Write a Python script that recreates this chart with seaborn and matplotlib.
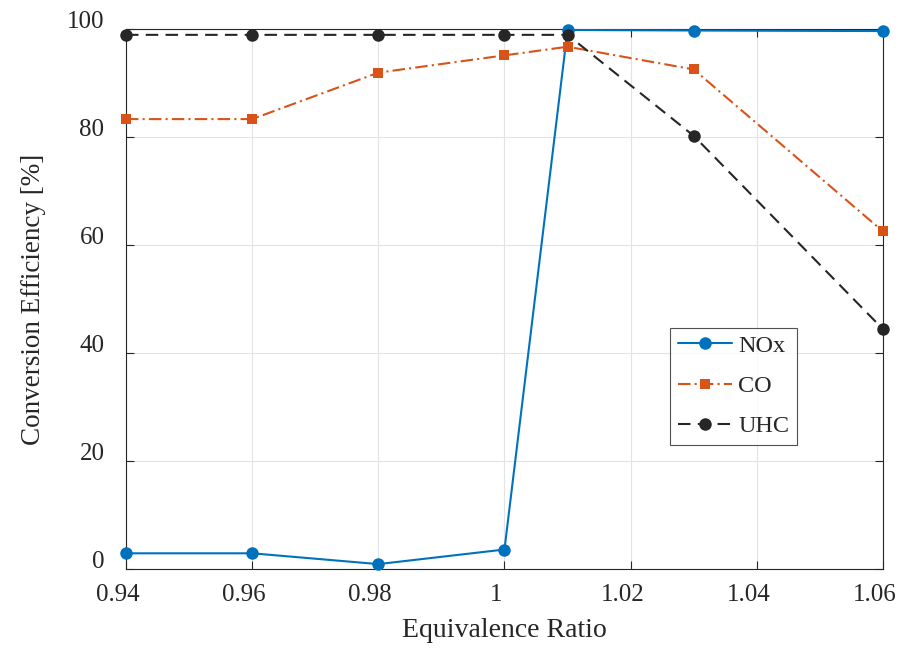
import matplotlib
matplotlib.use("Agg")
import matplotlib.pyplot as plt
import matplotlib.transforms as mtransforms
import seaborn as sns
import pandas as pd

phi = [0.94, 0.96, 0.98, 1.00, 1.01, 1.03, 1.06]
nox = [2.9, 2.9, 0.9, 3.6, 99.8, 99.7, 99.6]
co = [83.3, 83.3, 91.9, 95.1, 96.7, 92.5, 62.5]
uhc = [98.9, 98.9, 98.9, 98.9, 98.9, 80.2, 44.4]
series_names = ["NOx", "CO", "UHC"]
x_ticks = [0.94, 0.96, 0.98, 1.00, 1.02, 1.04, 1.06]
x_tick_labels = ["0.94", "0.96", "0.98", "1", "1.02", "1.04", "1.06"]
y_ticks = [0, 20, 40, 60, 80, 100]

sns.set_theme(style="white")
plt.rcParams["font.family"] = ["Liberation Serif", "DejaVu Serif"]

fig = plt.figure(figsize=(9.01, 6.57), dpi=100)
ax = fig.add_axes([0.1398, 0.134, 0.8402, 0.822])

colors = ["#0072BD", "#D95319", "#262626"]
styles = ["-", (0, (6, 2, 1, 2)), (0, (6, 3.5))]
markers = ["o", "s", "o"]
msizes = [9, 7, 9]

for name, vals, c, ls, mk, ms in zip(series_names, [nox, co, uhc], colors, styles, markers, msizes):
    df = pd.DataFrame({"phi": phi, "val": vals})
    sns.lineplot(data=df, x="phi", y="val", ax=ax, color=c, linestyle=ls,
                 marker=mk, markersize=ms, markeredgewidth=0, linewidth=1.5,
                 label=name, clip_on=False, zorder=3)

ax.set_xlim(0.94, 1.06)
ax.set_ylim(0, 100)
ax.set_xticks(x_ticks)
ax.set_xticklabels(x_tick_labels)
ax.set_yticks(y_ticks)
ax.grid(True, color="#e3e3e3", linewidth=0.8)
ax.set_axisbelow(True)
for s in ax.spines.values():
    s.set_visible(True)
    s.set_color("#262626")
    s.set_linewidth(0.8)
ax.tick_params(direction="in", length=6, width=0.8, colors="#262626",
               labelsize=18, top=True, right=True, bottom=True, left=True,
               labelcolor="#262626")
ax.tick_params(axis="x", pad=10.5)
ax.tick_params(axis="y", pad=15.5)
ax.set_xlabel("Equivalence Ratio", fontsize=20, color="#262626", labelpad=9)
ax.set_ylabel("Conversion Efficiency [%]", fontsize=19.5, color="#262626", labelpad=15)

# reference places tick labels slightly offset
dx = mtransforms.ScaledTranslation(-8 / 100, 0, fig.dpi_scale_trans)
dy = mtransforms.ScaledTranslation(0, 9 / 100, fig.dpi_scale_trans)
for lab in ax.get_xticklabels():
    lab.set_transform(lab.get_transform() + dx)
for lab in ax.get_yticklabels():
    lab.set_transform(lab.get_transform() + dy)

leg = ax.legend(loc="upper left", bbox_to_anchor=(0.719, 0.447), fontsize=17.5,
                frameon=True, fancybox=False, edgecolor="#262626",
                handlelength=2.25, handletextpad=0.25, labelspacing=0.75,
                borderpad=0.3, borderaxespad=0)
leg.get_frame().set_linewidth(0.8)

fig.savefig("out.png", dpi=100)
